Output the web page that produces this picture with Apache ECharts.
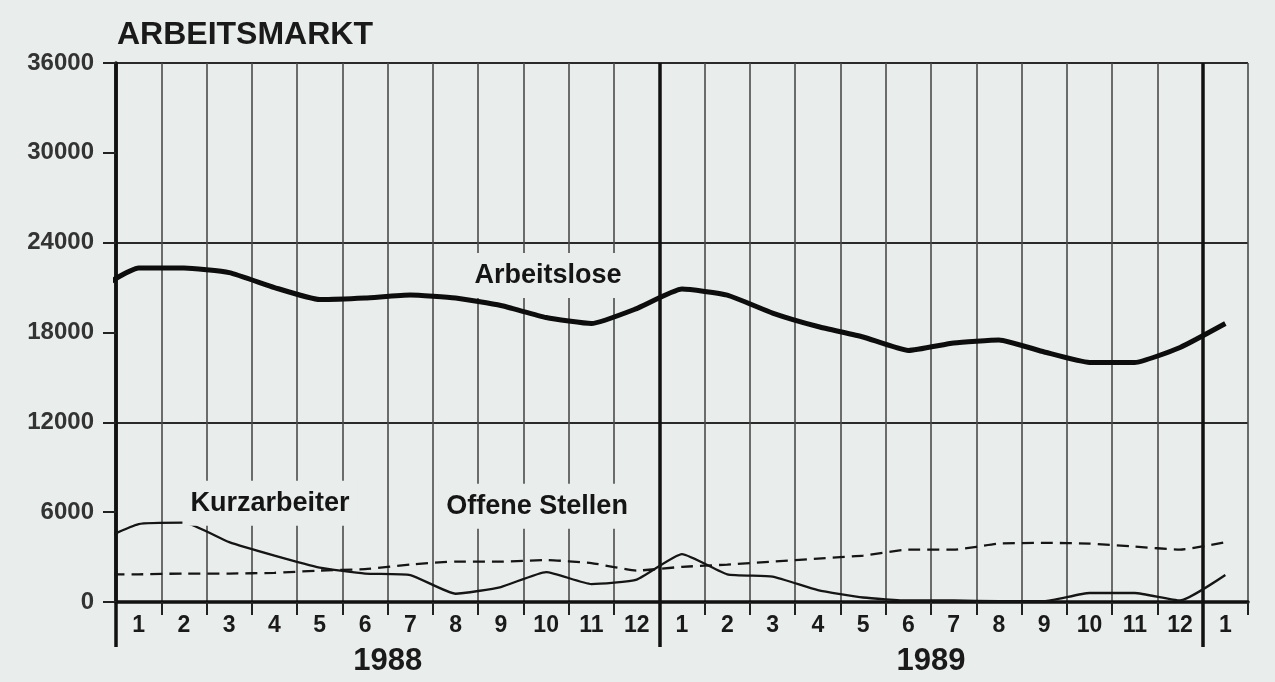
<!DOCTYPE html>
<html><head><meta charset="utf-8">
<script src="https://cdn.jsdelivr.net/npm/echarts@6/dist/echarts.min.js"></script>
<style>html,body{margin:0;padding:0;background:#e9edeb}#c{width:1275px;height:682px}</style>
</head><body><div id="c"></div>
<script>
// Monate 1988 (1-12), 1989 (1-12), Jan. 1990
const monthLabels = ['1','2','3','4','5','6','7','8','9','10','11','12','1','2','3','4','5','6','7','8','9','10','11','12','1'];
const yearLabels = ['1988','1989'];
const yMin = 0, yMax = 36000, yStep = 6000;
// Werte: erster Wert = Dez. 1987 (am linken Rand angeschnitten), dann Jan. 1988 ... Jan. 1990
const arbeitslose = [20700, 22300, 22300, 22000, 21000, 20200, 20300, 20500, 20300, 19800, 19000, 18600, 19600, 20900, 20500, 19300, 18400, 17700, 16800, 17300, 17500, 16700, 16000, 16000, 17000, 18600];
const kurzarbeiter = [3900, 5200, 5300, 4000, 3100, 2300, 1900, 1800, 550, 1000, 2000, 1200, 1500, 3200, 1850, 1700, 800, 300, 100, 100, 50, 50, 600, 600, 100, 1800];
const offeneStellen = [1850, 1850, 1900, 1900, 1950, 2100, 2200, 2500, 2700, 2700, 2800, 2600, 2100, 2350, 2500, 2700, 2900, 3100, 3500, 3500, 3900, 3950, 3900, 3700, 3500, 4000];
const seriesNames = ['Arbeitslose', 'Kurzarbeiter', 'Offene Stellen'];

const FONT = "'Liberation Sans', Arial, sans-serif";
const BG = '#e9edeb';
const toPts = arr => arr.map((v, i) => [i - 0.5, v]);
const nMonths = monthLabels.length;

function tag(name, coord) {
  return {
    symbol: 'rect', symbolSize: 1, silent: true,
    itemStyle: { color: 'rgba(0,0,0,0)' },
    label: { show: true, position: 'inside', formatter: '{b}', fontFamily: FONT, fontSize: 27, fontWeight: 'bold',
      color: '#151515', backgroundColor: BG, padding: [9, 8] },
    data: [{ name: name, coord: coord }]
  };
}

const chart = echarts.init(document.getElementById('c'));
chart.setOption({
  animation: false,
  backgroundColor: BG,
  textStyle: { fontFamily: FONT },
  title: { text: 'ARBEITSMARKT', left: 117, top: 19, padding: 0,
    textStyle: { fontFamily: FONT, fontSize: 32, fontWeight: 'bold', color: '#1a1a1a' } },
  grid: { left: 116, right: 27, top: 63, bottom: 80, containLabel: false },
  xAxis: [
    { type: 'value', min: 0, max: nMonths, interval: 1, position: 'bottom', offset: 0,
      axisLine: { show: true, onZero: false, lineStyle: { color: '#111', width: 3.5 } },
      axisTick: { show: true, length: 13, lineStyle: { color: '#222', width: 2 } },
      axisLabel: { show: false },
      splitLine: { show: true, lineStyle: { color: '#4a4a4a', width: 1.6 } } },
    { type: 'category', data: monthLabels, boundaryGap: true, position: 'bottom', offset: 0,
      axisLine: { show: false }, axisTick: { show: false }, splitLine: { show: false },
      axisLabel: { interval: 0, margin: 12, fontFamily: FONT, fontSize: 23, fontWeight: 'bold', color: '#1a1a1a' } },
    { type: 'value', min: 0, max: nMonths, position: 'bottom', offset: 0,
      axisLine: { show: false },
      axisTick: { show: true, customValues: [0, 12, 24], length: 45, lineStyle: { color: '#111', width: 3.5 } },
      axisLabel: { show: true, customValues: [6, 18], formatter: v => yearLabels[Math.floor(v / 12)],
        margin: 44, fontFamily: FONT, fontSize: 31, fontWeight: 'bold', color: '#1a1a1a' },
      splitLine: { show: true, lineStyle: { color: '#111', width: 3.5 } } }
  ],
  yAxis: [
    { type: 'value', min: yMin, max: yMax, interval: yStep,
      axisLine: { show: true, onZero: false, lineStyle: { color: '#111', width: 3.5 } },
      axisTick: { show: true, length: 13, lineStyle: { color: '#222', width: 2 } },
      splitLine: { show: false },
      axisLabel: { margin: 22, fontFamily: FONT, fontSize: 24, fontWeight: 'bold', color: '#333', formatter: v => String(v) } },
    { type: 'value', min: yMin, max: yMax, interval: yStep * 2, position: 'left',
      axisLine: { show: false }, axisTick: { show: false }, axisLabel: { show: false },
      splitLine: { show: true, lineStyle: { color: '#2a2a2a', width: 2 } } }
  ],
  series: [
    { name: seriesNames[0], type: 'line', xAxisIndex: 0, yAxisIndex: 0, data: toPts(arbeitslose),
      symbol: 'none', smooth: 0.15, clip: true, z: 5,
      lineStyle: { color: '#0d0d0d', width: 5 },
      markPoint: tag(seriesNames[0], [9.54, 21800]) },
    { name: seriesNames[1], type: 'line', xAxisIndex: 0, yAxisIndex: 0, data: toPts(kurzarbeiter),
      symbol: 'none', smooth: 0.15, clip: true, z: 4,
      lineStyle: { color: '#151515', width: 2.3 },
      markPoint: tag(seriesNames[1], [3.4, 6600]) },
    { name: seriesNames[2], type: 'line', xAxisIndex: 0, yAxisIndex: 0, data: toPts(offeneStellen),
      symbol: 'none', smooth: 0.15, clip: true, z: 4,
      lineStyle: { color: '#151515', width: 2.3, type: [12, 7] },
      markPoint: tag(seriesNames[2], [9.3, 6400]) }
  ]
});
</script></body></html>
